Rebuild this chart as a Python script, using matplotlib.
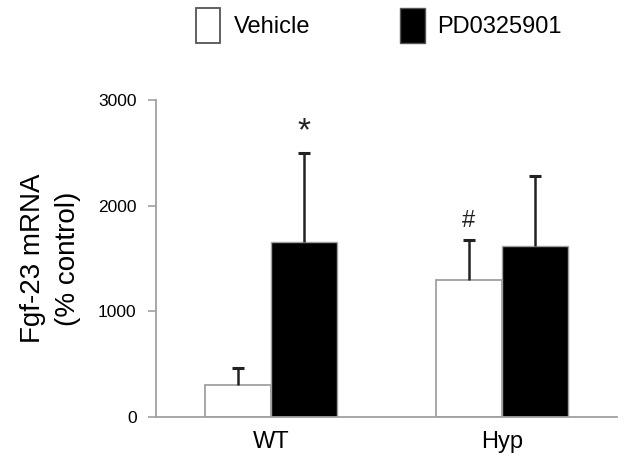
import matplotlib
matplotlib.use('Agg')
import matplotlib.pyplot as plt
from matplotlib.patches import Rectangle
import numpy as np

plt.rcParams['font.family'] = ['Liberation Sans', 'DejaVu Sans']

groups = ['WT', 'Hyp']
vehicle = [303, 1296]
vehicle_err = [161, 379]
pd = [1656, 1618]
pd_err = [842, 662]
marks_vehicle = ['', '#']
marks_pd = ['*', '']
yticks = [0, 1000, 2000, 3000]

fig = plt.figure(figsize=(6.24, 4.66), dpi=100)
ax = fig.add_axes([0.25, 0.105, 0.739, 0.68])

x = np.arange(len(groups))
w = 0.287
grey = '#a0a0a0'
ax.bar(x - w/2, vehicle, w, color='white', edgecolor=grey, linewidth=1.3, zorder=2)
ax.bar(x + w/2, pd, w, color='black', edgecolor=grey, linewidth=1.0, zorder=2)

# upper error bars only
for xs, vals, errs in [(x - w/2, vehicle, vehicle_err), (x + w/2, pd, pd_err)]:
    tops = np.array(vals) + np.array(errs)
    ax.vlines(xs, vals, tops, color='#222222', linewidth=1.8, zorder=3)
    ax.plot(xs, tops, linestyle='none', marker='_', markersize=9,
            markeredgewidth=2.2, color='#222222', zorder=3)

for i in range(len(groups)):
    if marks_vehicle[i]:
        ax.text(x[i] - w/2, vehicle[i] + vehicle_err[i] + 80, marks_vehicle[i],
                ha='center', va='bottom', fontsize=17, color='#222222')
    if marks_pd[i]:
        ax.text(x[i] + w/2, pd[i] + pd_err[i] + 60, marks_pd[i],
                ha='center', va='bottom', fontsize=24, color='#222222')

ax.set_xlim(-0.5, 1.5)
ax.set_ylim(0, 3000)
ax.set_yticks(yticks)
ax.set_yticklabels([str(t) for t in yticks], fontsize=12.5)
ax.set_xticks(x)
ax.set_xticklabels(groups, fontsize=17)
ax.tick_params(axis='x', length=0, pad=10)
ax.tick_params(axis='y', color=grey, length=6, width=1.2, pad=8)
for s in ['top', 'right']:
    ax.spines[s].set_visible(False)
for s in ['left', 'bottom']:
    ax.spines[s].set_color(grey)
    ax.spines[s].set_linewidth(1.3)

ax.set_ylabel('Fgf-23 mRNA\n(% control)', fontsize=20, labelpad=12, linespacing=1.45)

# legend drawn in figure coords
fig.patches.append(Rectangle((196/624, 1 - 43/466), 24/624, 35/466, transform=fig.transFigure,
                             facecolor='white', edgecolor='#555555', linewidth=1.3))
fig.text(234/624, 1 - 27/466, 'Vehicle', fontsize=17, va='center', ha='left')
fig.patches.append(Rectangle((400/624, 1 - 43/466), 25/624, 35/466, transform=fig.transFigure,
                             facecolor='black', edgecolor='#555555', linewidth=1.0))
fig.text(437/624, 1 - 27/466, 'PD0325901', fontsize=17, va='center', ha='left')

fig.savefig('out.png', dpi=100)
